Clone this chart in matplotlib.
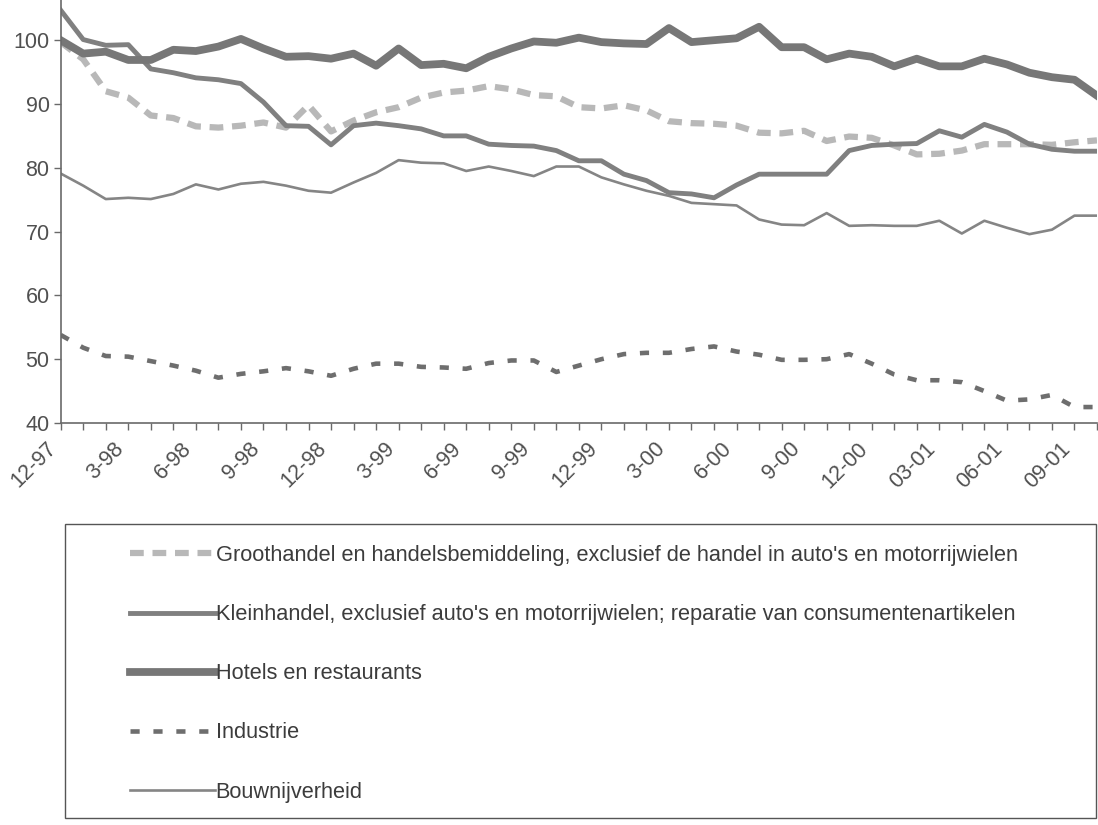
import numpy as np
import matplotlib.pyplot as plt
from matplotlib.patches import Rectangle

plt.rcParams['font.family'] = ['Liberation Sans', 'DejaVu Sans']

# maandelijkse reeksen, 12-97 t/m 10-01 (47 maanden)
groothandel = [99.7, 97.0, 92.0, 91.0, 88.2, 87.8, 86.5, 86.3, 86.6, 87.1, 86.3, 89.8, 85.7, 87.4, 88.7, 89.5,
               91.0, 91.8, 92.1, 92.8, 92.3, 91.4, 91.2, 89.5, 89.3, 89.8, 89.0, 87.3, 87.0, 86.9,
               86.6, 85.5, 85.4, 85.8, 84.2, 84.9, 84.7, 83.5, 82.1, 82.2, 82.7, 83.7, 83.7, 83.7, 83.6, 84.0, 84.3]
kleinhandel = [104.7, 100.1, 99.2, 99.3, 95.5, 94.9, 94.1, 93.8, 93.2, 90.3, 86.6, 86.5, 83.6, 86.6, 87.0, 86.6,
               86.1, 85.0, 85.0, 83.7, 83.5, 83.4, 82.7, 81.1, 81.1, 79.0, 78.0, 76.1, 75.9, 75.3, 77.3, 79.0,
               79.0, 79.0, 79.0, 82.7, 83.5, 83.7, 83.8, 85.8, 84.8, 86.8, 85.6, 83.7, 82.9, 82.6, 82.6]
hotels = [100.0, 97.9, 98.2, 96.9, 96.9, 98.5, 98.3, 99.0, 100.2, 98.7, 97.4, 97.5, 97.1, 97.9, 96.0, 98.7,
          96.1, 96.3, 95.6, 97.4, 98.7, 99.8, 99.6, 100.4, 99.7, 99.5, 99.4, 101.9, 99.7, 100.0, 100.3, 102.1,
          98.9, 98.9, 97.0, 97.9, 97.4, 95.9, 97.1, 95.9, 95.9, 97.1, 96.2, 94.9, 94.2, 93.8, 91.3]
industrie = [53.8, 51.8, 50.5, 50.4, 49.7, 49.0, 48.2, 47.1, 47.7, 48.1, 48.6, 48.1, 47.4, 48.5, 49.3, 49.3,
             48.8, 48.7, 48.5, 49.4, 49.8, 49.8, 48.0, 49.0, 50.0, 50.8, 51.0, 51.0, 51.6, 52.0, 51.2, 50.7,
             49.9, 49.9, 50.0, 50.8, 49.3, 47.6, 46.7, 46.7, 46.4, 45.0, 43.5, 43.7, 44.4, 42.5, 42.5]
bouw = [79.1, 77.2, 75.1, 75.3, 75.1, 75.9, 77.4, 76.6, 77.5, 77.8, 77.2, 76.4, 76.1, 77.7, 79.2, 81.2,
        80.8, 80.7, 79.5, 80.2, 79.5, 78.7, 80.2, 80.2, 78.5, 77.4, 76.4, 75.6, 74.5, 74.3, 74.1, 71.9,
        71.1, 71.0, 72.9, 70.9, 71.0, 70.9, 70.9, 71.7, 69.7, 71.7, 70.6, 69.6, 70.3, 72.5, 72.5]

tick_labels = ['12-97', '3-98', '6-98', '9-98', '12-98', '3-99', '6-99', '9-99', '12-99',
               '3-00', '6-00', '9-00', '12-00', '03-01', '06-01', '09-01']

namen = ["Groothandel en handelsbemiddeling, exclusief de handel in auto's en motorrijwielen",
         "Kleinhandel, exclusief auto's en motorrijwielen; reparatie van consumentenartikelen",
         "Hotels en restaurants",
         "Industrie",
         "Bouwnijverheid"]

x = np.arange(len(hotels))

fig = plt.figure(figsize=(10.98, 8.25), dpi=100)
ax = fig.add_axes([60.7/1098, 1-423/825, (1097-60.7)/1098, 423/825])

l1, = ax.plot(x, groothandel, color='#b8b8b8', lw=4.5, dashes=(2.2, 1.4), solid_capstyle='butt')
l2, = ax.plot(x, kleinhandel, color='#808080', lw=3.5)
l3, = ax.plot(x, hotels, color='#777777', lw=5.6)
l4, = ax.plot(x, industrie, color='#6e6e6e', lw=3.3, dashes=(2.0, 3.0))
l5, = ax.plot(x, bouw, color='#858585', lw=1.9)

ax.set_xlim(0, len(hotels) - 1)
ax.set_ylim(40, 106.3)
ax.set_yticks(range(40, 101, 10))
ax.set_xticks(x[::3])
ax.set_xticklabels(tick_labels, rotation=45, ha='right', va='top')
ax.set_xticks(x, minor=True)

for s in ['top', 'right']:
    ax.spines[s].set_visible(False)
for s in ['left', 'bottom']:
    ax.spines[s].set_color('#6a6a6a')
    ax.spines[s].set_linewidth(1.2)
ax.tick_params(axis='both', which='both', color='#6a6a6a', length=5, width=1.0,
               labelsize=15.5, labelcolor='#505050', direction='out')
ax.tick_params(axis='x', pad=6)
ax.tick_params(axis='y', pad=3)

# legenda
fig.patches.append(Rectangle((65/1098, 1-818/825), (1096-65)/1098, (818-524)/825,
                             transform=fig.transFigure, fill=False, edgecolor='#555555', lw=1.0))
fig.legend([l1, l2, l3, l4, l5], namen, loc='upper left',
           bbox_to_anchor=(130/1098, 1-545/825), frameon=False, fontsize=15.7,
           handlelength=85/21.8, handletextpad=0.03, labelspacing=1.75, borderpad=0,
           borderaxespad=0, labelcolor='#3c3c3c')

fig.savefig('out.png', dpi=100)
